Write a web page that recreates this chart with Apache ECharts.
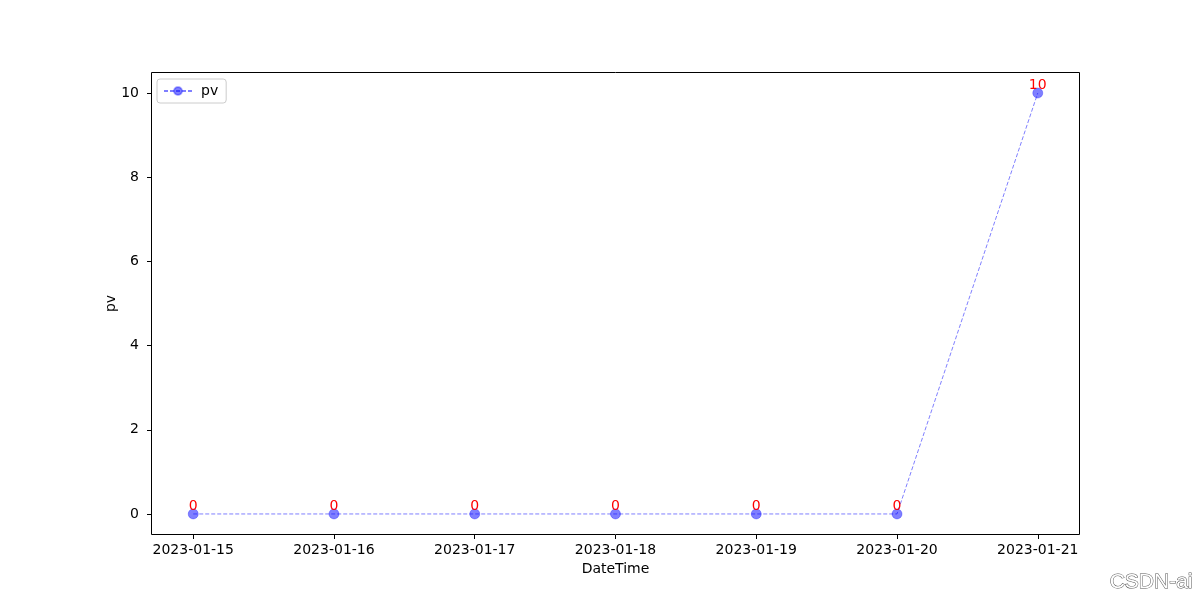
<!DOCTYPE html>
<html>
<head>
<meta charset="utf-8">
<script src="https://cdn.jsdelivr.net/npm/echarts@6/dist/echarts.min.js"></script>
<style>html,body{margin:0;padding:0;background:#fff}#c{width:1200px;height:600px}</style>
</head>
<body>
<div id="c"></div>
<script>
const categories = ['2023-01-15','2023-01-16','2023-01-17','2023-01-18','2023-01-19','2023-01-20','2023-01-21'];
const pvValues = [0, 0, 0, 0, 0, 0, 10];
const yTicks = [0, 2, 4, 6, 8, 10];

const FONT = 'DejaVu Sans';
const chart = echarts.init(document.getElementById('c'), null, {renderer: 'canvas'});
const xTicks = categories.map((_, i) => i);
const seriesData = pvValues.map((v, i) => [i, v]);

chart.setOption({
  animation: false,
  backgroundColor: '#ffffff',
  textStyle: {fontFamily: FONT},
  grid: {left: 151, top: 72, right: 120, bottom: 65, containLabel: false},
  legend: {
    left: 157, top: 79,
    padding: [5, 8, 5, 6],
    borderColor: '#cccccc', borderWidth: 1, borderRadius: 3,
    backgroundColor: '#ffffff',
    itemWidth: 28, itemHeight: 10, itemGap: 8,
    textStyle: {fontFamily: FONT, fontSize: 14, color: '#000', padding: [0, 0, 0, 4]},
    data: ['pv']
  },
  xAxis: {
    type: 'value', min: -0.3, max: 6.3,
    name: 'DateTime', nameLocation: 'middle', nameGap: 27,
    nameTextStyle: {fontFamily: FONT, fontSize: 14, color: '#000'},
    axisLine: {show: true, onZero: false, lineStyle: {color: 'rgba(0,0,0,0)', width: 1}},
    axisTick: {show: true, length: 4, lineStyle: {color: '#000'}, customValues: xTicks},
    axisLabel: {fontFamily: FONT, fontSize: 14, color: '#000', margin: 8,
      customValues: xTicks,
      formatter: v => categories[Math.round(v)] || ''},
    splitLine: {show: false}
  },
  yAxis: {
    type: 'value', min: -0.5, max: 10.5,
    name: 'pv', nameLocation: 'middle', nameGap: 33, nameRotate: 90, nameMoveOverlap: false,
    nameTextStyle: {fontFamily: FONT, fontSize: 14, color: '#000'},
    axisLine: {show: true, onZero: false, lineStyle: {color: 'rgba(0,0,0,0)', width: 1}},
    axisTick: {show: true, length: 4, lineStyle: {color: '#000'}, customValues: yTicks},
    axisLabel: {fontFamily: FONT, fontSize: 14, color: '#000', margin: 12, customValues: yTicks},
    splitLine: {show: false}
  },
  graphic: [
    {type: 'rect', shape: {x: 151.5, y: 72.5, width: 928, height: 462}, style: {fill: 'none', stroke: '#000', lineWidth: 1}, silent: true, z: 10},
    {type: 'text', right: 7, bottom: 7, style: {text: 'CSDN-ai', font: '21px "Liberation Sans"', fill: '#ffffff', stroke: '#555555', lineWidth: 1}, z: 20}
  ],
  series: [{
    name: 'pv', type: 'line',
    data: seriesData,
    symbol: 'circle', symbolSize: 10,
    itemStyle: {color: 'rgba(0,0,255,0.5)', borderColor: 'rgba(0,0,255,0.3)', borderWidth: 1},
    lineStyle: {color: 'rgba(0,0,255,0.5)', width: 1, type: [4, 2]},
    label: {show: true, position: 'top', distance: -5, color: '#ff0000', fontFamily: FONT, fontSize: 14,
      formatter: p => String(p.value[1])},
    z: 5
  }]
});
</script>
</body>
</html>
